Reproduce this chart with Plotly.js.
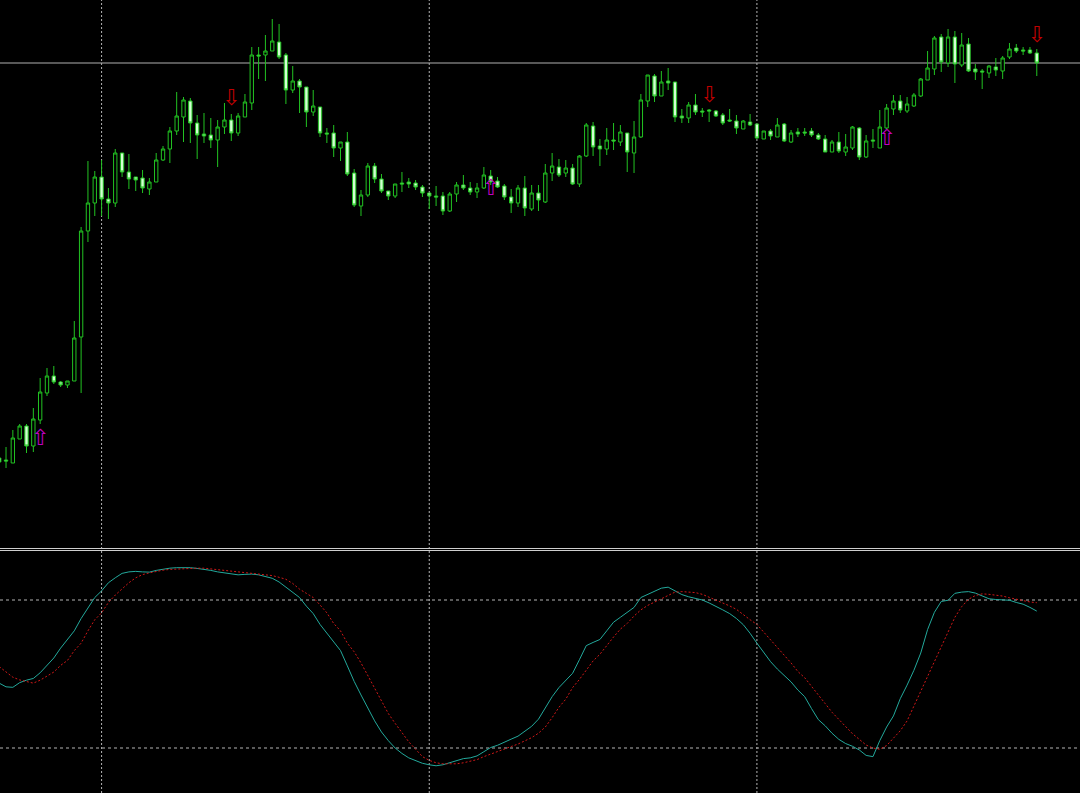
<!DOCTYPE html>
<html><head><meta charset="utf-8">
<script src="https://cdn.plot.ly/plotly-3.0.1.min.js"></script>
<style>html,body{margin:0;padding:0;background:#000;overflow:hidden}#chart{width:1080px;height:793px}</style>
</head><body><div id="chart"></div>
<script>
// OHLC price data (one bar per entry)
const openP = [
1.3142,1.3140,1.3137,1.3161,1.3174,1.3154,1.3180,1.3207,1.3224,1.3218,
1.3215,1.3219,1.3263,1.3369,1.3397,1.3423,1.3401,1.3397,1.3447,1.3428,
1.3423,1.3422,1.3411,1.3418,1.3440,1.3451,1.3469,1.3483,1.3499,1.3477,
1.3466,1.3465,1.3460,1.3473,1.3480,1.3467,1.3483,1.3497,1.3545,1.3545,
1.3549,1.3558,1.3545,1.3510,1.3519,1.3513,1.3488,1.3493,1.3467,1.3467,
1.3452,1.3458,1.3427,1.3394,1.3405,1.3434,1.3421,1.3409,1.3404,1.3417,
1.3418,1.3417,1.3413,1.3407,1.3404,1.3404,1.3389,1.3406,1.3415,1.3412,
1.3408,1.3412,1.3424,1.3419,1.3414,1.3403,1.3397,1.3412,1.3391,1.3407,
1.3398,1.3427,1.3433,1.3427,1.3432,1.3416,1.3444,1.3474,1.3454,1.3451,
1.3460,1.3458,1.3467,1.3447,1.3463,1.3499,1.3524,1.3504,1.3519,1.3518,
1.3484,1.3482,1.3495,1.3489,1.3490,1.3489,1.3485,1.3480,1.3479,1.3471,
1.3478,1.3476,1.3461,1.3469,1.3463,1.3476,1.3458,1.3468,1.3468,1.3469,
1.3465,1.3461,1.3448,1.3458,1.3448,1.3452,1.3472,1.3443,1.3460,1.3452,
1.3472,1.3491,1.3499,1.3489,1.3494,1.3504,1.3520,1.3531,1.3563,1.3537,
1.3563,1.3535,1.3556,1.3531,1.3529,1.3527,1.3533,1.3529,1.3543,1.3552,
1.3550,1.3550,1.3547];
const highP = [
1.3148,1.3153,1.3170,1.3176,1.3176,1.3192,1.3222,1.3232,1.3234,1.3219,
1.3219,1.3279,1.3373,1.3439,1.3429,1.3440,1.3412,1.3451,1.3447,1.3446,
1.3423,1.3430,1.3422,1.3447,1.3454,1.3473,1.3508,1.3503,1.3502,1.3485,
1.3487,1.3482,1.3480,1.3497,1.3486,1.3487,1.3506,1.3553,1.3553,1.3565,
1.3581,1.3576,1.3547,1.3534,1.3521,1.3513,1.3510,1.3493,1.3472,1.3475,
1.3458,1.3468,1.3431,1.3410,1.3437,1.3437,1.3426,1.3409,1.3416,1.3428,
1.3422,1.3420,1.3415,1.3407,1.3414,1.3408,1.3408,1.3418,1.3425,1.3418,
1.3417,1.3433,1.3430,1.3423,1.3416,1.3411,1.3415,1.3424,1.3415,1.3415,
1.3436,1.3447,1.3441,1.3440,1.3436,1.3445,1.3477,1.3478,1.3461,1.3472,
1.3477,1.3475,1.3467,1.3479,1.3506,1.3525,1.3526,1.3529,1.3532,1.3518,
1.3491,1.3498,1.3506,1.3492,1.3491,1.3490,1.3487,1.3491,1.3485,1.3480,
1.3486,1.3476,1.3469,1.3471,1.3482,1.3477,1.3470,1.3472,1.3472,1.3472,
1.3467,1.3465,1.3460,1.3468,1.3466,1.3474,1.3473,1.3465,1.3471,1.3490,
1.3496,1.3505,1.3505,1.3503,1.3507,1.3522,1.3549,1.3564,1.3566,1.3571,
1.3569,1.3567,1.3562,1.3536,1.3531,1.3535,1.3542,1.3544,1.3557,1.3556,
1.3553,1.3553,1.3551];
const lowP = [
1.3134,1.3132,1.3137,1.3161,1.3147,1.3148,1.3176,1.3204,1.3216,1.3213,
1.3212,1.3219,1.3207,1.3358,1.3384,1.3384,1.3381,1.3393,1.3423,1.3411,
1.3409,1.3407,1.3405,1.3418,1.3439,1.3437,1.3465,1.3458,1.3457,1.3441,
1.3457,1.3452,1.3433,1.3466,1.3459,1.3464,1.3483,1.3490,1.3521,1.3519,
1.3549,1.3541,1.3496,1.3507,1.3487,1.3473,1.3484,1.3463,1.3457,1.3443,
1.3439,1.3424,1.3393,1.3384,1.3403,1.3417,1.3407,1.3400,1.3402,1.3408,
1.3412,1.3410,1.3403,1.3391,1.3394,1.3385,1.3388,1.3398,1.3410,1.3405,
1.3402,1.3411,1.3415,1.3412,1.3400,1.3387,1.3393,1.3384,1.3389,1.3389,
1.3397,1.3419,1.3423,1.3423,1.3415,1.3413,1.3443,1.3444,1.3434,1.3445,
1.3450,1.3454,1.3428,1.3427,1.3462,1.3493,1.3498,1.3504,1.3510,1.3478,
1.3477,1.3477,1.3485,1.3483,1.3478,1.3483,1.3475,1.3478,1.3466,1.3471,
1.3474,1.3461,1.3461,1.3460,1.3463,1.3458,1.3457,1.3463,1.3464,1.3463,
1.3460,1.3448,1.3448,1.3447,1.3444,1.3450,1.3440,1.3442,1.3452,1.3452,
1.3471,1.3485,1.3487,1.3487,1.3493,1.3503,1.3520,1.3525,1.3528,1.3533,
1.3517,1.3533,1.3528,1.3520,1.3511,1.3522,1.3524,1.3521,1.3541,1.3547,
1.3545,1.3546,1.3524];
const closeP = [
1.3138,1.3139,1.3162,1.3174,1.3154,1.3181,1.3208,1.3224,1.3218,1.3215,
1.3219,1.3262,1.3369,1.3397,1.3423,1.3401,1.3397,1.3447,1.3428,1.3421,
1.3420,1.3412,1.3418,1.3440,1.3451,1.3469,1.3484,1.3500,1.3477,1.3465,
1.3464,1.3460,1.3473,1.3480,1.3467,1.3484,1.3498,1.3545,1.3544,1.3549,
1.3559,1.3543,1.3510,1.3519,1.3513,1.3488,1.3494,1.3467,1.3466,1.3452,
1.3458,1.3426,1.3395,1.3405,1.3434,1.3421,1.3409,1.3404,1.3416,1.3416,
1.3416,1.3413,1.3407,1.3404,1.3403,1.3389,1.3406,1.3415,1.3412,1.3408,
1.3412,1.3425,1.3418,1.3413,1.3403,1.3397,1.3412,1.3392,1.3407,1.3400,
1.3427,1.3434,1.3425,1.3432,1.3416,1.3444,1.3475,1.3453,1.3451,1.3460,
1.3459,1.3468,1.3448,1.3463,1.3500,1.3525,1.3504,1.3518,1.3517,1.3483,
1.3482,1.3495,1.3488,1.3488,1.3489,1.3484,1.3477,1.3479,1.3472,1.3479,
1.3475,1.3462,1.3469,1.3464,1.3475,1.3459,1.3467,1.3466,1.3467,1.3465,
1.3461,1.3448,1.3458,1.3449,1.3453,1.3473,1.3443,1.3459,1.3459,1.3473,
1.3492,1.3499,1.3490,1.3496,1.3505,1.3521,1.3532,1.3562,1.3538,1.3563,
1.3536,1.3555,1.3529,1.3528,1.3528,1.3534,1.3530,1.3542,1.3551,1.3549,
1.3549,1.3547,1.3537];

// Stochastic oscillator: main (%K) and signal (%D)
const stochMain = [
46.3,44.8,44.6,46.5,47.5,48.2,50.5,53.5,56.5,60.5,
64,67.5,72.5,77,81,83.7,87,89,90.8,91.4,
91.6,91.4,91.3,92,92.6,92.9,93.1,93.2,93.1,92.8,
92.5,92,91.4,91,90.4,90.2,90.4,90.5,90.2,89.5,
88.8,87.3,85.2,83,81,77.5,74.5,70.1,66.7,63.3,
59.5,53.3,47,41.5,36,31,26.5,23,20,17.8,
16,14.8,13.8,13.2,12.8,13.2,14,14.8,15.7,16,
16.8,18.5,20.2,21.1,22.2,23.6,24.8,26.9,28.8,31.7,
36.5,40.8,44.5,47.5,50.3,55.8,61.5,62.8,64,67.5,
71,73,75,77,81,82.2,83.4,84.8,85.2,83.8,
82.2,81.3,80.6,80,78.8,77.5,76,74.5,72.5,70,
66.5,62.5,58.5,55,52,49.6,46.8,43.5,40.8,36,
31.5,29,26,23.5,21.8,20.7,19.2,17,16.5,23,
28.5,33,40,45.5,51.5,58.5,68,75,79.4,79.9,
82.7,83.2,83.4,82.8,81.5,80.5,80.2,80,79.9,79,
78.3,77,75.5];
const stochSignal = [
53,50.8,48.7,47.6,46.8,46.3,47.5,49,50.8,53.5,
55.5,59.5,62.5,67.5,72,74.8,79,82,84.5,87,
89,90.3,91,91.6,92.1,92.4,92.6,92.8,92.9,92.9,
92.9,92.6,92.3,92,91.6,91.2,90.9,90.7,90.4,90.2,
89.9,89.2,88.4,86.7,84.4,82.7,81,78,74.8,70.5,
67.5,62.5,59,54.5,49.5,44.5,39,34,30,26,
22.5,19.5,16.5,15,14,13.6,13.6,13.6,14,14.6,
15.3,16.5,17.6,18.6,19.6,20.6,21.6,22.8,24.2,26,
28.5,32.3,36.5,39.8,44.5,47.8,51.5,55.3,58,61.7,
65,68.2,70.5,73.5,76,77.8,79.2,80.6,82,83.2,
83.4,83.3,83,82.3,81.2,80,78.8,77.6,76.2,74,
72,70.1,67,64,61,57.7,54.5,51,48.5,45,
41.3,38,34.5,31.5,28.5,25.8,23.5,21.2,20,19.5,
21,24,27,31,37,42.5,48.5,54.5,61,67,
73,77.3,80.3,81.8,82.5,82.3,82,81.6,80.9,80.3,
79.8,79.2,78.9];
const stochLevels = [20, 80];

// Signal arrows (bar index, price level)
const sellBars = [34, 104, 152];
const sellPrice = [1.3501, 1.35037, 1.35635];
const buyBars = [6, 72, 130];
const buyPrice = [1.31605, 1.3411, 1.3461];

// Vertical separator bars
const gridBars = [15, 63, 111];

const bars = openP.map((_, i) => i);
const lastClose = closeP[closeP.length - 1];

const candleGreen = '#22c322';
const arrowFont = {family: 'DejaVu Sans', size: 22};
const traces = [
  {
    type: 'candlestick', x: bars, open: openP, high: highP, low: lowP, close: closeP,
    xaxis: 'x', yaxis: 'y',
    increasing: {line: {color: candleGreen, width: 1}, fillcolor: '#000000'},
    decreasing: {line: {color: candleGreen, width: 1}, fillcolor: '#d2ffd2'},
    whiskerwidth: 0, hoverinfo: 'skip', showlegend: false
  },
  {
    type: 'scatter', mode: 'lines', x: bars, y: stochMain, xaxis: 'x', yaxis: 'y2',
    line: {color: '#23a99c', width: 1}, hoverinfo: 'skip', showlegend: false
  },
  {
    type: 'scatter', mode: 'lines', x: bars, y: stochSignal, xaxis: 'x', yaxis: 'y2',
    line: {color: '#d01818', width: 1, dash: '2px,2px'}, hoverinfo: 'skip', showlegend: false
  },
  {
    type: 'scatter', mode: 'text', x: sellBars, y: sellPrice, xaxis: 'x', yaxis: 'y',
    text: sellBars.map(() => '\u21E9'), textposition: 'middle center',
    textfont: Object.assign({color: '#c00000'}, arrowFont), hoverinfo: 'skip', showlegend: false
  },
  {
    type: 'scatter', mode: 'text', x: buyBars, y: buyPrice, xaxis: 'x', yaxis: 'y',
    text: buyBars.map(() => '\u21E7'), textposition: 'middle center',
    textfont: Object.assign({color: '#c000c0'}, arrowFont), hoverinfo: 'skip', showlegend: false
  }
];

const H = 793;
const shapes = [];
gridBars.forEach(b => shapes.push({
  type: 'line', xref: 'x', yref: 'paper', x0: b, x1: b, y0: 0, y1: 1,
  line: {color: '#b4b4b4', width: 1, dash: '2px,2px'}, layer: 'below'
}));
stochLevels.forEach(v => shapes.push({
  type: 'line', xref: 'paper', yref: 'y2', x0: 0, x1: 1, y0: v, y1: v,
  line: {color: '#b4b4b4', width: 1, dash: '3px,3px'}, layer: 'below'
}));
shapes.push({type: 'line', xref: 'paper', yref: 'y', x0: 0, x1: 1, y0: lastClose, y1: lastClose,
  line: {color: '#b0b0b0', width: 1}, layer: 'below'});
[548.5, 550.5].forEach(py => shapes.push({
  type: 'line', xref: 'paper', yref: 'paper', x0: 0, x1: 1, y0: 1 - py / H, y1: 1 - py / H,
  line: {color: '#cfcfcf', width: 1}
}));

const layout = {
  width: 1080, height: 793,
  margin: {l: 0, r: 0, t: 0, b: 0, pad: 0},
  paper_bgcolor: '#000000', plot_bgcolor: '#000000',
  font: {family: 'DejaVu Sans', color: '#ffffff'},
  showlegend: false,
  xaxis: {range: [0.117, 158.33], showgrid: false, zeroline: false, showticklabels: false,
          showline: false, ticks: '', rangeslider: {visible: false}, anchor: 'y2', fixedrange: true},
  yaxis: {domain: [1 - 548 / H, 1], range: [1.3052, 1.3600], showgrid: false, zeroline: false,
          showticklabels: false, showline: false, ticks: '', fixedrange: true},
  yaxis2: {domain: [0, 243 / H], range: [1.76, 100.27], showgrid: false, zeroline: false,
           showticklabels: false, showline: false, ticks: '', fixedrange: true},
  shapes: shapes
};

Plotly.newPlot('chart', traces, layout, {displayModeBar: false, staticPlot: true});
</script>
</body></html>
